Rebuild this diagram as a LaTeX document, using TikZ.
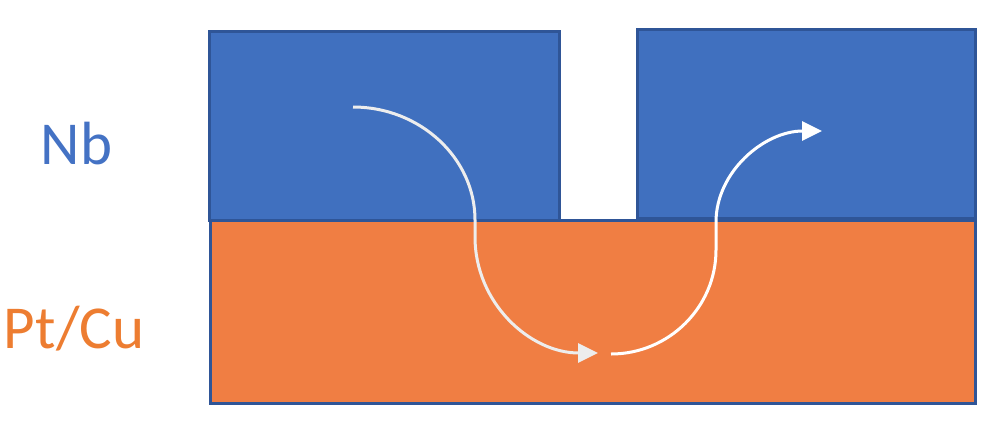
\documentclass[tikz,border=0pt]{standalone}
\usepackage{fontspec}
\setmainfont{Carlito}
\usetikzlibrary{arrows.meta}
\definecolor{nbblue}{HTML}{4070BF}
\definecolor{cuorange}{HTML}{F07E43}
\definecolor{edgeblue}{HTML}{2F5597}
\definecolor{txtblue}{HTML}{4472C4}
\definecolor{txtorange}{HTML}{ED7D31}
\definecolor{lightpath}{HTML}{EDEDED}
\tikzset{
  layer/.style={draw=edgeblue, line width=3pt},
  flow/.style={line width=3pt, -{Triangle[length=20pt,width=19pt]}},
  lbl/.style={font=\fontsize{61}{68}\selectfont, anchor=base, inner sep=0pt}
}
\begin{document}
\begin{tikzpicture}[x=1pt,y=-1pt]
\useasboundingbox (0,0) rectangle (984,424);
% layers
\draw[layer, fill=cuorange] (210,220) rectangle (975,403);
\draw[layer, fill=nbblue] (209,31) rectangle (559,220);
\draw[layer, fill=nbblue] (637,29) rectangle (975,218);
% labels
\node[lbl, text=txtblue] (nb) at (76.5,164) {Nb};
\node[lbl, text=txtorange] (ptcu) at (74,348) {Pt/Cu};
% flow paths
\coordinate (s1) at (353,107);
\coordinate (e1) at (598,353);
\coordinate (s2) at (611,354);
\coordinate (e2) at (822,131);
\draw[flow, draw=lightpath] (s1) .. controls (420,107) and (475,158) .. (475,220) -- (475,237) .. controls (475,303) and (530,353) .. (e1);
\draw[flow, draw=white] (s2) .. controls (669,354) and (716,307) .. (716,250) -- (716,222) .. controls (716,172) and (764,131) .. (e2);
\end{tikzpicture}
\end{document}
